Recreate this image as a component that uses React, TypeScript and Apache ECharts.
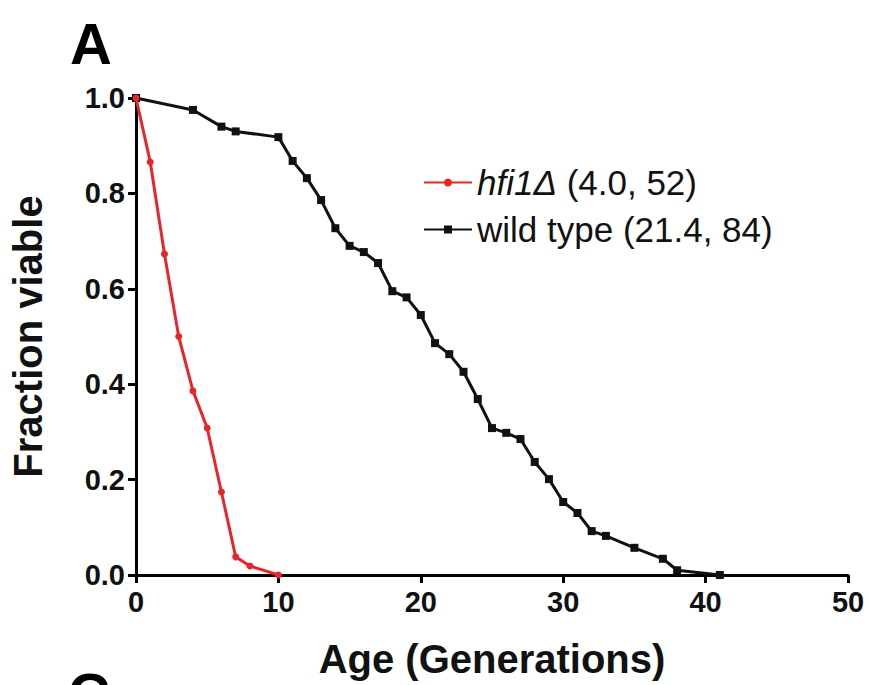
import React, { useEffect, useRef } from "react";
import * as echarts from "echarts";

const hfiAge = [0, 1, 2, 3, 4, 5, 6, 7, 8, 10];
const hfiViable = [1.0, 0.866, 0.673, 0.5, 0.386, 0.308, 0.174, 0.038, 0.019, 0.0];

const wtAge = [0, 4, 6, 7, 10, 11, 12, 13, 14, 15, 16, 17, 18, 19, 20, 21, 22, 23, 24, 25, 26, 27, 28, 29, 30, 31, 32, 33, 35, 37, 38, 41];
const wtViable = [1.0, 0.975, 0.94, 0.93, 0.918, 0.868, 0.832, 0.786, 0.727, 0.69, 0.677, 0.654, 0.595, 0.582, 0.545, 0.486, 0.463, 0.426, 0.369, 0.308, 0.298, 0.285, 0.237, 0.201, 0.153, 0.13, 0.092, 0.082, 0.057, 0.034, 0.01, 0.0];

const hfiName = "hfi1Δ (4.0, 52)";
const wtName = "wild type (21.4, 84)";

const FONT = "'Liberation Sans', Arial, sans-serif";

export default function App() {
  const ref = useRef<HTMLDivElement>(null);
  useEffect(() => {
    if (!ref.current) return;
    const chart = echarts.init(ref.current, undefined, { renderer: "svg" });
    const axisLine = { show: true, lineStyle: { color: "#000", width: 3 } };
    const axisTick = { show: true, length: 8, lineStyle: { color: "#000", width: 3 } };
    chart.setOption({
      animation: false,
      backgroundColor: "#fff",
      textStyle: { fontFamily: FONT },
      grid: { left: 133, right: 21, top: 98, bottom: 110, containLabel: false },
      graphic: [
        { type: "text", left: 70, top: 14, style: { text: "A", font: `bold 58px ${FONT}`, fill: "#000" } },
        { type: "text", left: 68, top: 664, style: { text: "C", font: `bold 58px ${FONT}`, fill: "#000" } },
      ],
      legend: {
        orient: "vertical",
        left: 418,
        top: 160,
        itemWidth: 48,
        itemHeight: 10,
        itemGap: 12,
        data: [hfiName, wtName],
        formatter: (name: string) =>
          name === hfiName ? "{it|hfi1Δ}{rg| (4.0, 52)}" : "{rg|" + name + "}",
        textStyle: {
          fontFamily: FONT,
          fontSize: 35,
          color: "#111",
          padding: [0, 0, 0, 0],
          rich: {
            it: { fontFamily: FONT, fontSize: 35, fontStyle: "italic", color: "#111", lineHeight: 37 },
            rg: { fontFamily: FONT, fontSize: 35, color: "#111", lineHeight: 37 },
          },
        },
      },
      xAxis: {
        type: "value",
        min: 0,
        max: 50,
        interval: 10,
        name: "Age (Generations)",
        nameLocation: "middle",
        nameGap: 64,
        nameTextStyle: { fontFamily: FONT, fontSize: 40, fontWeight: "bold", color: "#111" },
        axisLine,
        axisTick,
        splitLine: { show: false },
        axisLabel: { fontFamily: FONT, fontSize: 29, fontWeight: "bold", color: "#111", margin: 12 },
      },
      yAxis: {
        type: "value",
        min: 0,
        max: 1,
        interval: 0.2,
        name: "Fraction viable",
        nameLocation: "middle",
        nameGap: 88,
        nameTextStyle: { fontFamily: FONT, fontSize: 40, fontWeight: "bold", color: "#111" },
        axisLine,
        axisTick,
        splitLine: { show: false },
        axisLabel: {
          fontFamily: FONT,
          fontSize: 29,
          fontWeight: "bold",
          color: "#111",
          margin: 11,
          formatter: (v: number) => v.toFixed(1),
        },
      },
      series: [
        {
          name: hfiName,
          type: "line",
          data: hfiAge.map((x, i) => [x, hfiViable[i]]),
          color: "#e8262a",
          lineStyle: { color: "#e8262a", width: 3 },
          itemStyle: { color: "#e8262a" },
          symbol: "circle",
          symbolSize: 7,
          z: 3,
        },
        {
          name: wtName,
          type: "line",
          data: wtAge.map((x, i) => [x, wtViable[i]]),
          color: "#111",
          lineStyle: { color: "#111", width: 3 },
          itemStyle: { color: "#111" },
          symbol: "rect",
          symbolSize: 8,
          z: 2,
        },
      ],
    });
    return () => chart.dispose();
  }, []);
  return (
    <div
      ref={ref}
      style={{ position: "fixed", left: 0, top: 0, width: 869, height: 685, background: "#fff" }}
    />
  );
}
